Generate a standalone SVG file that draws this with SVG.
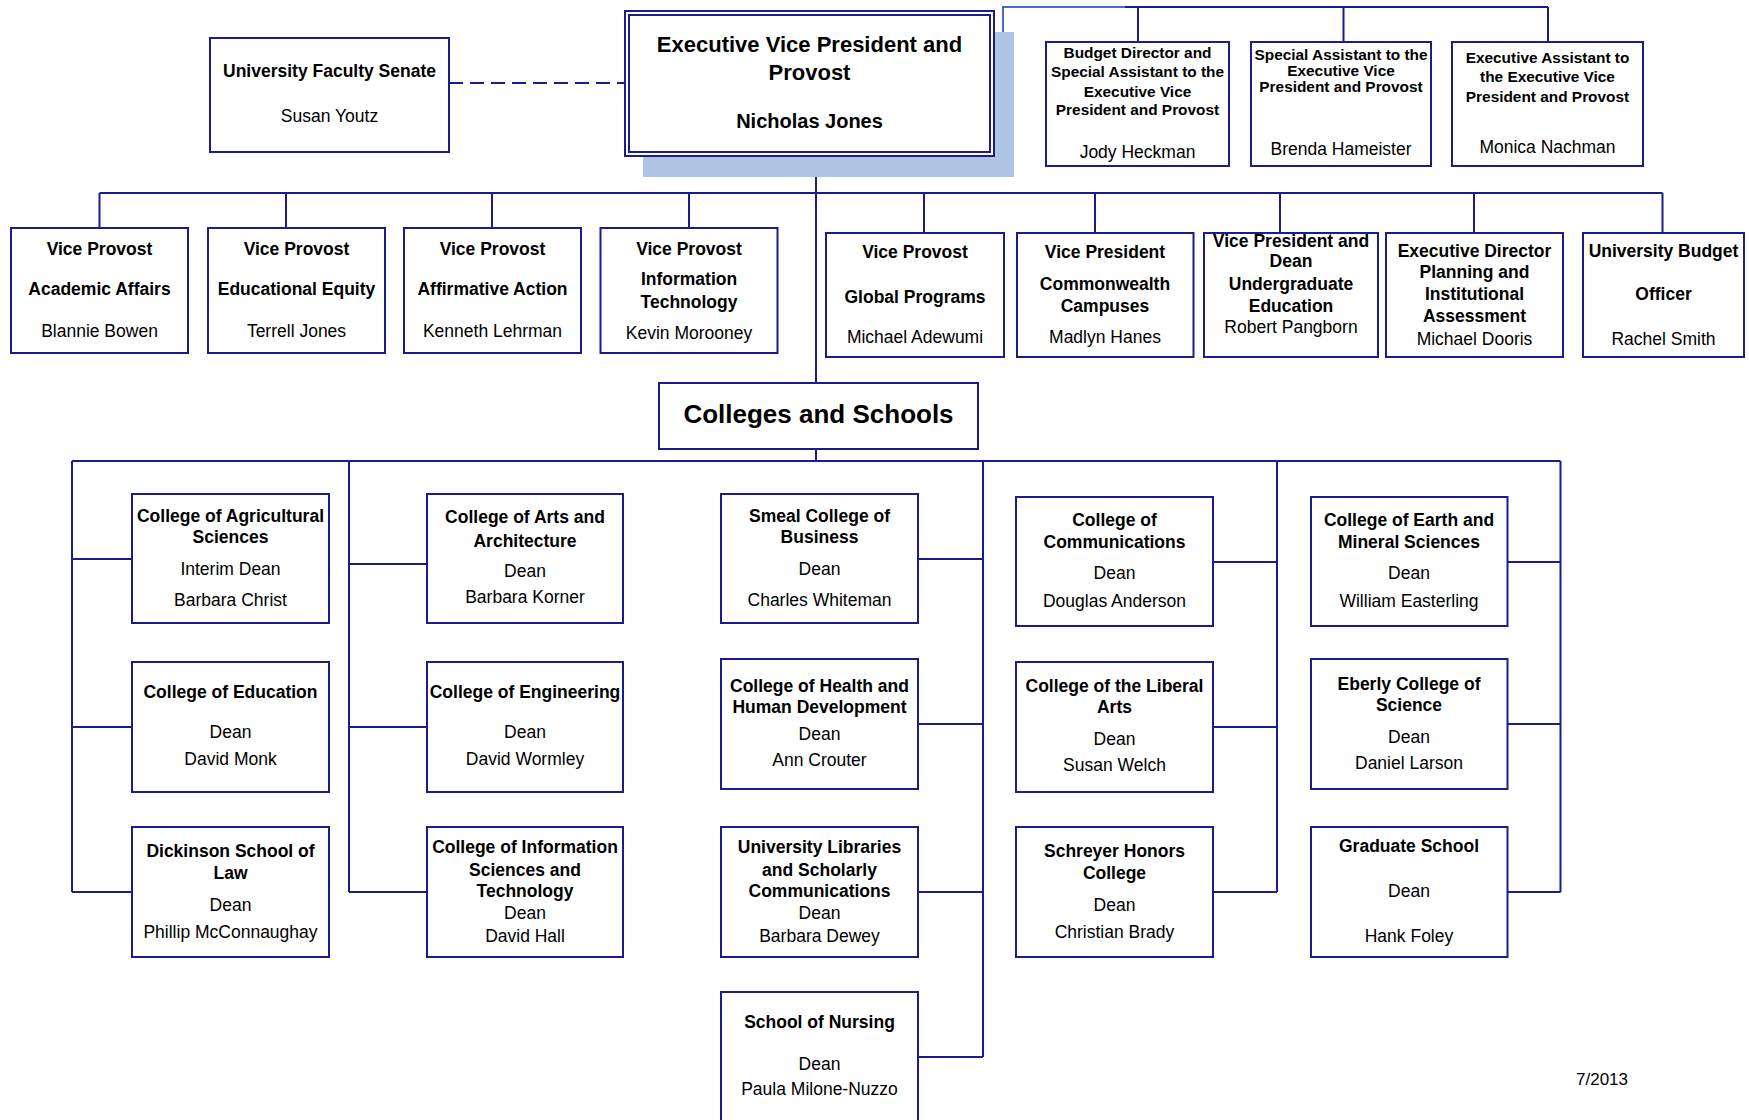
<svg xmlns="http://www.w3.org/2000/svg" width="1749" height="1120" viewBox="0 0 1749 1120">
<style>
.b{fill:#fff;stroke:#1c1c8c;stroke-width:2}
.c{fill:none;stroke:#1c1c8c;stroke-width:2}
.cl{fill:none;stroke:#4a6ad0;stroke-width:2}
text{font-family:"Liberation Sans",Arial,sans-serif;font-size:17.5px;fill:#000;text-anchor:middle}
.t{font-weight:bold}
.s{font-weight:bold;font-size:15.4px}
.e{font-weight:bold;font-size:22px}
.h{font-weight:bold;font-size:26px}
</style>
<rect width="1749" height="1120" fill="#fff"/>

<g id="connectors">
  <path class="c" d="M449,83 H624" stroke-dasharray="14 7"/>
  <path class="cl" d="M994,104 H1003 V7 H1125"/>
  <path class="c" d="M1125,7 H1548 M1138,7 V42 M1343.5,7 V42 M1548,7 V42"/>
  <path class="c" d="M816,156 V383 M99.5,193 H1662.5 M99.5,193 V228 M286,193 V228 M492,193 V228 M689,193 V228 M924,193 V233 M1095,193 V233 M1280,193 V233 M1474,193 V233 M1662.5,193 V233"/>
  <path class="c" d="M816,449 V461 M72,461 H1560.5"/>
  <path class="c" d="M72,461 V892 M72,559 H132 M72,727 H132 M72,892 H132"/>
  <path class="c" d="M349,461 V892 M349,564 H427 M349,727 H427 M349,892 H427"/>
  <path class="c" d="M983,461 V1057 M918,559 H983 M918,724 H983 M918,892 H983 M918,1057 H983"/>
  <path class="c" d="M1277,461 V892 M1213,562 H1277 M1213,727 H1277 M1213,892 H1277"/>
  <path class="c" d="M1560.5,461 V892 M1507.5,562 H1560.5 M1507.5,724 H1560.5 M1507.5,892 H1560.5"/>
</g>

<g id="senate">
  <rect class="b" x="210" y="38" width="239" height="114"/>
  <text class="t" x="329.5" y="77">University Faculty Senate</text>
  <text x="329.5" y="122">Susan Youtz</text>
</g>

<g id="evp">
  <rect x="643" y="32" width="371" height="145" fill="#aec2e3"/>
  <rect class="b" x="625" y="11" width="369" height="145"/>
  <rect class="b" x="629" y="15" width="361" height="137"/>
  <text class="e" x="809.5" y="52">Executive Vice President and</text>
  <text class="e" x="809.5" y="80">Provost</text>
  <text class="t" x="809.5" y="128" style="font-size:20px">Nicholas Jones</text>
</g>

<g id="budget-director">
  <rect class="b" x="1046" y="42" width="183" height="124"/>
  <text class="s" x="1137.5" y="58">Budget Director and</text>
  <text class="s" x="1137.5" y="77">Special Assistant to the</text>
  <text class="s" x="1137.5" y="97">Executive Vice</text>
  <text class="s" x="1137.5" y="115">President and Provost</text>
  <text x="1137.5" y="158">Jody Heckman</text>
</g>

<g id="special-assistant">
  <rect class="b" x="1251" y="42" width="180" height="124"/>
  <text class="s" x="1341" y="60">Special Assistant to the</text>
  <text class="s" x="1341" y="76">Executive Vice</text>
  <text class="s" x="1341" y="92">President and Provost</text>
  <text x="1341" y="155">Brenda Hameister</text>
</g>

<g id="executive-assistant">
  <rect class="b" x="1452" y="42" width="191" height="124"/>
  <text class="s" x="1547.5" y="63">Executive Assistant to</text>
  <text class="s" x="1547.5" y="82">the Executive Vice</text>
  <text class="s" x="1547.5" y="102">President and Provost</text>
  <text x="1547.5" y="153">Monica Nachman</text>
</g>

<g id="vp-academic-affairs">
  <rect class="b" x="11" y="228" width="177" height="125"/>
  <text class="t" x="99.5" y="255">Vice Provost</text>
  <text class="t" x="99.5" y="295">Academic Affairs</text>
  <text x="99.5" y="337">Blannie Bowen</text>
</g>

<g id="vp-educational-equity">
  <rect class="b" x="208" y="228" width="177" height="125"/>
  <text class="t" x="296.5" y="255">Vice Provost</text>
  <text class="t" x="296.5" y="295">Educational Equity</text>
  <text x="296.5" y="337">Terrell Jones</text>
</g>

<g id="vp-affirmative-action">
  <rect class="b" x="404" y="228" width="177" height="125"/>
  <text class="t" x="492.5" y="255">Vice Provost</text>
  <text class="t" x="492.5" y="295">Affirmative Action</text>
  <text x="492.5" y="337">Kenneth Lehrman</text>
</g>

<g id="vp-information-technology">
  <rect class="b" x="600.5" y="228" width="177" height="125"/>
  <text class="t" x="689" y="255">Vice Provost</text>
  <text class="t" x="689" y="285">Information</text>
  <text class="t" x="689" y="308">Technology</text>
  <text x="689" y="339">Kevin Morooney</text>
</g>

<g id="vp-global-programs">
  <rect class="b" x="826" y="233" width="178" height="124"/>
  <text class="t" x="915" y="258">Vice Provost</text>
  <text class="t" x="915" y="303">Global Programs</text>
  <text x="915" y="343">Michael Adewumi</text>
</g>

<g id="vp-commonwealth-campuses">
  <rect class="b" x="1017" y="233" width="176.5" height="124"/>
  <text class="t" x="1105" y="258">Vice President</text>
  <text class="t" x="1105" y="290">Commonwealth</text>
  <text class="t" x="1105" y="312">Campuses</text>
  <text x="1105" y="343">Madlyn Hanes</text>
</g>

<g id="vp-undergraduate-education">
  <rect class="b" x="1204" y="233" width="174" height="124"/>
  <text class="t" x="1291" y="247">Vice President and</text>
  <text class="t" x="1291" y="267">Dean</text>
  <text class="t" x="1291" y="290">Undergraduate</text>
  <text class="t" x="1291" y="312">Education</text>
  <text x="1291" y="333">Robert Pangborn</text>
</g>

<g id="ed-planning-assessment">
  <rect class="b" x="1386" y="233" width="177" height="124"/>
  <text class="t" x="1474.5" y="257">Executive Director</text>
  <text class="t" x="1474.5" y="278">Planning and</text>
  <text class="t" x="1474.5" y="300">Institutional</text>
  <text class="t" x="1474.5" y="322">Assessment</text>
  <text x="1474.5" y="345">Michael Dooris</text>
</g>

<g id="university-budget-officer">
  <rect class="b" x="1583" y="233" width="161" height="124"/>
  <text class="t" x="1663.5" y="257">University Budget</text>
  <text class="t" x="1663.5" y="300">Officer</text>
  <text x="1663.5" y="345">Rachel Smith</text>
</g>

<g id="colleges-and-schools">
  <rect class="b" x="659" y="383" width="319" height="66"/>
  <text class="h" x="818.5" y="423">Colleges and Schools</text>
</g>

<g id="agricultural-sciences">
  <rect class="b" x="132" y="494" width="197" height="129"/>
  <text class="t" x="230.5" y="522">College of Agricultural</text>
  <text class="t" x="230.5" y="543">Sciences</text>
  <text x="230.5" y="575">Interim Dean</text>
  <text x="230.5" y="606">Barbara Christ</text>
</g>

<g id="arts-architecture">
  <rect class="b" x="427" y="494" width="196" height="129"/>
  <text class="t" x="525" y="523">College of Arts and</text>
  <text class="t" x="525" y="547">Architecture</text>
  <text x="525" y="577">Dean</text>
  <text x="525" y="603">Barbara Korner</text>
</g>

<g id="smeal-business">
  <rect class="b" x="721" y="494" width="197" height="129"/>
  <text class="t" x="819.5" y="522">Smeal College of</text>
  <text class="t" x="819.5" y="543">Business</text>
  <text x="819.5" y="575">Dean</text>
  <text x="819.5" y="606">Charles Whiteman</text>
</g>

<g id="communications">
  <rect class="b" x="1016" y="497" width="197" height="129"/>
  <text class="t" x="1114.5" y="526">College of</text>
  <text class="t" x="1114.5" y="548">Communications</text>
  <text x="1114.5" y="579">Dean</text>
  <text x="1114.5" y="607">Douglas Anderson</text>
</g>

<g id="earth-mineral-sciences">
  <rect class="b" x="1311" y="497" width="196.5" height="129"/>
  <text class="t" x="1409" y="526">College of Earth and</text>
  <text class="t" x="1409" y="548">Mineral Sciences</text>
  <text x="1409" y="579">Dean</text>
  <text x="1409" y="607">William Easterling</text>
</g>

<g id="education">
  <rect class="b" x="132" y="662" width="197" height="130"/>
  <text class="t" x="230.5" y="698">College of Education</text>
  <text x="230.5" y="738">Dean</text>
  <text x="230.5" y="765">David Monk</text>
</g>

<g id="engineering">
  <rect class="b" x="427" y="662" width="196" height="130"/>
  <text class="t" x="525" y="698">College of Engineering</text>
  <text x="525" y="738">Dean</text>
  <text x="525" y="765">David Wormley</text>
</g>

<g id="health-human-development">
  <rect class="b" x="721" y="659" width="197" height="130"/>
  <text class="t" x="819.5" y="692">College of Health and</text>
  <text class="t" x="819.5" y="713">Human Development</text>
  <text x="819.5" y="740">Dean</text>
  <text x="819.5" y="766">Ann Crouter</text>
</g>

<g id="liberal-arts">
  <rect class="b" x="1016" y="662" width="197" height="130"/>
  <text class="t" x="1114.5" y="692">College of the Liberal</text>
  <text class="t" x="1114.5" y="713">Arts</text>
  <text x="1114.5" y="745">Dean</text>
  <text x="1114.5" y="771">Susan Welch</text>
</g>

<g id="eberly-science">
  <rect class="b" x="1311" y="659" width="196.5" height="130"/>
  <text class="t" x="1409" y="690">Eberly College of</text>
  <text class="t" x="1409" y="711">Science</text>
  <text x="1409" y="743">Dean</text>
  <text x="1409" y="769">Daniel Larson</text>
</g>

<g id="dickinson-law">
  <rect class="b" x="132" y="827" width="197" height="130"/>
  <text class="t" x="230.5" y="857">Dickinson School of</text>
  <text class="t" x="230.5" y="879">Law</text>
  <text x="230.5" y="911">Dean</text>
  <text x="230.5" y="938">Phillip McConnaughay</text>
</g>

<g id="information-sciences-technology">
  <rect class="b" x="427" y="827" width="196" height="130"/>
  <text class="t" x="525" y="853">College of Information</text>
  <text class="t" x="525" y="876">Sciences and</text>
  <text class="t" x="525" y="897">Technology</text>
  <text x="525" y="919">Dean</text>
  <text x="525" y="942">David Hall</text>
</g>

<g id="university-libraries">
  <rect class="b" x="721" y="827" width="197" height="130"/>
  <text class="t" x="819.5" y="853">University Libraries</text>
  <text class="t" x="819.5" y="876">and Scholarly</text>
  <text class="t" x="819.5" y="897">Communications</text>
  <text x="819.5" y="919">Dean</text>
  <text x="819.5" y="942">Barbara Dewey</text>
</g>

<g id="schreyer-honors">
  <rect class="b" x="1016" y="827" width="197" height="130"/>
  <text class="t" x="1114.5" y="857">Schreyer Honors</text>
  <text class="t" x="1114.5" y="879">College</text>
  <text x="1114.5" y="911">Dean</text>
  <text x="1114.5" y="938">Christian Brady</text>
</g>

<g id="graduate-school">
  <rect class="b" x="1311" y="827" width="196.5" height="130"/>
  <text class="t" x="1409" y="852">Graduate School</text>
  <text x="1409" y="897">Dean</text>
  <text x="1409" y="942">Hank Foley</text>
</g>

<g id="nursing">
  <rect class="b" x="721" y="992" width="197" height="140"/>
  <text class="t" x="819.5" y="1028">School of Nursing</text>
  <text x="819.5" y="1070">Dean</text>
  <text x="819.5" y="1095">Paula Milone-Nuzzo</text>
</g>

<text x="1602" y="1085" style="font-size:17px">7/2013</text>
</svg>
